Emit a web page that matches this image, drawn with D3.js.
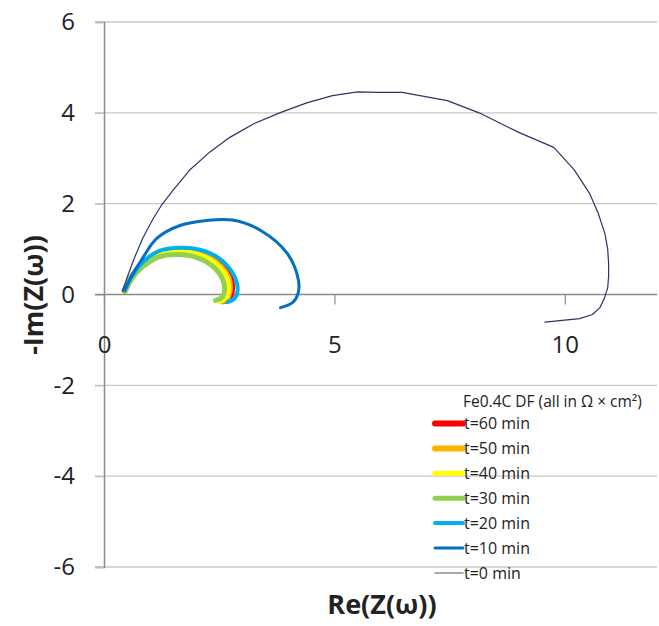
<!DOCTYPE html>
<html lang="en">
<head>
<meta charset="UTF-8">
<title>Fe0.4C DF Nyquist</title>
<script src="https://d3js.org/d3.v7.min.js"></script>
<style>
    body { margin: 0; background: #fff; }
    svg { display: block; }
    text { font-family: "Open Sans", sans-serif; fill: #222; }
    .grid line { stroke: #c8c8c8; stroke-width: 1.3; }
</style>
</head>
<body>
<svg></svg>
<script>
    // series names, top to bottom as in the legend
    const seriesNames = ["t=60 min", "t=50 min", "t=40 min", "t=30 min", "t=20 min", "t=10 min", "t=0 min"];
    const seriesColors = ["#ff0000", "#ffb300", "#ffff00", "#92d050", "#00b0f0", "#0070c0", "#2b3566"];
    const seriesWidths = [6, 6, 5, 5, 4, 3, 1.2];

    // Re(Z), -Im(Z) points
    const t60 = [[0.45,0.08],[0.6,0.38],[0.85,0.68],[1.2,0.91],[1.63,0.98],[2.08,0.92],[2.46,0.72],[2.74,0.38],[2.77,0.06],[2.7,-0.1],[2.58,-0.15]];
    const t50 = [[0.45,0.08],[0.6,0.37],[0.85,0.67],[1.2,0.9],[1.62,0.96],[2.06,0.9],[2.44,0.7],[2.7,0.36],[2.72,0.05],[2.65,-0.1],[2.54,-0.15]];
    const t40 = [[0.45,0.08],[0.6,0.37],[0.85,0.66],[1.2,0.88],[1.62,0.94],[2.05,0.88],[2.42,0.68],[2.67,0.35],[2.69,0.05],[2.62,-0.1],[2.5,-0.15]];
    const t30 = [[0.45,0.08],[0.6,0.35],[0.85,0.62],[1.2,0.83],[1.6,0.88],[2.0,0.82],[2.35,0.63],[2.58,0.32],[2.61,0.05],[2.54,-0.08],[2.42,-0.13]];
    const t20 = [[0.45,0.08],[0.6,0.4],[0.85,0.72],[1.2,0.96],[1.65,1.03],[2.1,0.98],[2.52,0.78],[2.82,0.42],[2.9,0.1],[2.84,-0.08],[2.68,-0.17]];
    const t10 = [[0.45,0.1],[0.58,0.37],[0.85,0.82],[1.15,1.24],[1.65,1.52],[2.23,1.63],[2.79,1.64],[3.4,1.41],[3.98,0.9],[4.22,0.31],[4.21,0.02],[4.09,-0.18],[3.83,-0.29]];
    const t0 = [[0.4,0.08],[0.5,0.37],[0.65,0.78],[0.84,1.24],[1.05,1.64],[1.25,1.97],[1.5,2.3],[1.86,2.74],[2.3,3.14],[2.73,3.46],[3.25,3.76],[3.81,4.0],[4.4,4.22],[4.96,4.38],[5.5,4.46],[5.97,4.45],[6.47,4.45],[7.45,4.27],[8.14,4.0],[9.0,3.57],[9.76,3.24],[10.2,2.75],[10.54,2.22],[10.72,1.8],[10.87,1.34],[10.93,1.0],[10.95,0.68],[10.95,0.4],[10.93,0.15],[10.86,-0.08],[10.76,-0.29],[10.6,-0.44],[10.32,-0.53],[9.57,-0.61]];
    const seriesData = [t60, t50, t40, t30, t20, t10, t0];

    const xTicks = [0, 5, 10];
    const yTicks = [-6, -4, -2, 0, 2, 4, 6];
    const legendTitle = "Fe0.4C DF (all in \u03A9 \u00D7 cm\u00B2)";

    const width = 659, height = 626;
    const svg = d3.select("svg").attr("width", width).attr("height", height);

    const x = d3.scaleLinear().domain([0, 12]).range([104, 657]);
    const y = d3.scaleLinear().domain([-6, 6]).range([567, 22]);

    // horizontal gridlines
    svg.append("g").attr("class", "grid")
        .selectAll("line").data(yTicks.filter(d => d !== 0)).enter().append("line")
        .attr("x1", 95).attr("x2", x(12))
        .attr("y1", d => y(d)).attr("y2", d => y(d));

    // y axis
    const yAxis = svg.append("g")
        .attr("transform", `translate(${x(0)},0)`)
        .call(d3.axisLeft(y).tickValues(yTicks).tickSize(9).tickPadding(20).tickFormat(d => String(d)));
    yAxis.select(".domain").attr("stroke", "#8a8a8a").attr("stroke-width", 1.5);
    yAxis.selectAll(".tick line").attr("stroke", "#c0c0c0").attr("stroke-width", 1.3);
    yAxis.selectAll("text").attr("font-size", 24).attr("font-family", "Open Sans").attr("fill", "#222");

    // x axis at y = 0
    const xAxis = svg.append("g")
        .attr("transform", `translate(0,${y(0)})`)
        .call(d3.axisBottom(x).tickValues(xTicks).tickSize(10).tickPadding(31).tickSizeOuter(0).tickFormat(d => String(d)));
    xAxis.select(".domain").attr("stroke", "#8a8a8a").attr("stroke-width", 1.5)
        .attr("d", `M95,0H${x(12)}`);
    xAxis.selectAll(".tick line").attr("stroke", "#8a8a8a").attr("stroke-width", 1.2);
    xAxis.selectAll("text").attr("font-size", 24).attr("font-family", "Open Sans").attr("fill", "#222");

    // series, drawn in legend order so t=0 ends on top
    const smooth = d3.line().x(d => x(d[0])).y(d => y(d[1])).curve(d3.curveCatmullRom.alpha(0.5));
    const straight = d3.line().x(d => x(d[0])).y(d => y(d[1]));
    svg.append("g").selectAll("path").data(seriesData).enter().append("path")
        .attr("d", (d, i) => i === 6 ? straight(d) : smooth(d))
        .attr("fill", "none")
        .attr("stroke", (d, i) => seriesColors[i])
        .attr("stroke-width", (d, i) => seriesWidths[i])
        .attr("stroke-linecap", "round")
        .attr("stroke-linejoin", "round");

    // axis titles
    svg.append("text")
        .attr("x", 382).attr("y", 614)
        .attr("text-anchor", "middle")
        .attr("font-size", 27).attr("font-weight", "bold")
        .text("Re(Z(\u03C9))");
    svg.append("text")
        .attr("transform", "translate(43,295) rotate(-90)")
        .attr("text-anchor", "middle")
        .attr("font-size", 27).attr("font-weight", "bold")
        .text("-Im(Z(\u03C9))");

    // legend
    const legend = svg.append("g");
    legend.append("text")
        .attr("x", 463).attr("y", 402).attr("dy", "0.35em")
        .attr("font-size", 15.5)
        .text(legendTitle);
    const item = legend.selectAll(".item").data(seriesNames).enter().append("g")
        .attr("class", "item")
        .attr("transform", (d, i) => `translate(0,${423.5 + i * 24.9})`);
    item.append("line")
        .attr("x1", 435).attr("x2", 463)
        .attr("stroke", (d, i) => i === 6 ? "#8c8c96" : seriesColors[i])
        .attr("stroke-width", (d, i) => i === 6 ? 1.5 : seriesWidths[i])
        .attr("stroke-linecap", "round");
    item.append("text")
        .attr("x", 464).attr("dy", "0.35em")
        .attr("font-size", 16)
        .text(d => d);
</script>
</body>
</html>
